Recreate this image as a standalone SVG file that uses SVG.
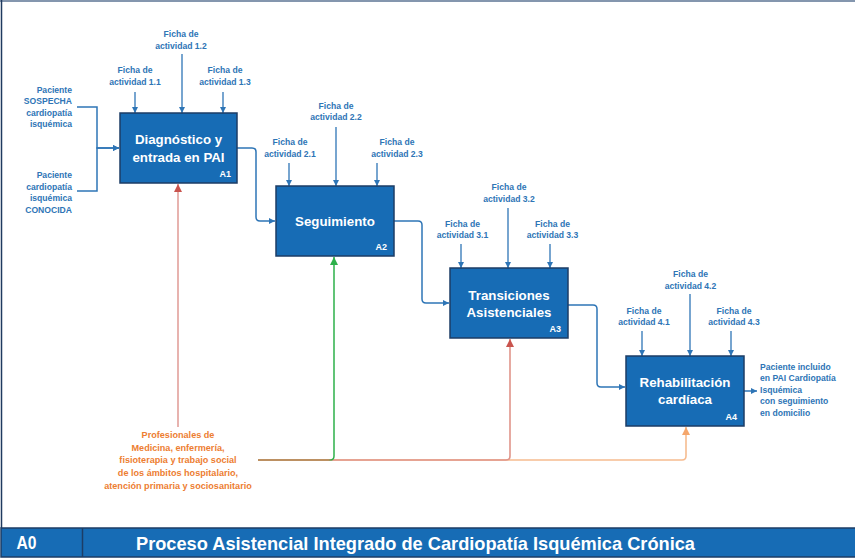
<svg xmlns="http://www.w3.org/2000/svg" width="855" height="559" viewBox="0 0 855 559">
  <style>
    .box { fill: #176CB5; stroke: #1C3D66; stroke-width: 1.5; }
    .bt { font-family: "Liberation Sans", Arial, sans-serif; font-weight: bold; font-size: 13.3px; fill: #FFFFFF; text-anchor: middle; }
    .bid { font-family: "Liberation Sans", Arial, sans-serif; font-weight: bold; font-size: 9px; fill: #FFFFFF; text-anchor: end; }
    .lbl { font-family: "Liberation Sans", Arial, sans-serif; font-weight: bold; font-size: 8.6px; fill: #2E75B6; }
    .mid { text-anchor: middle; }
    .end { text-anchor: end; }
    .mech { font-family: "Liberation Sans", Arial, sans-serif; font-weight: bold; font-size: 9.1px; fill: #ED7D31; text-anchor: middle; }
    .flow { fill: none; stroke: #2E75B6; stroke-width: 1.5; marker-end: url(#arB); }
    .ctl { fill: none; stroke: #2E75B6; stroke-width: 1.3; marker-end: url(#arB); }
    .foot { font-family: "Liberation Sans", Arial, sans-serif; font-weight: bold; font-size: 19px; fill: #FFFFFF; }
  </style>
  <defs>
    <marker id="arB" viewBox="0 0 10 10" refX="10" refY="5" markerWidth="6" markerHeight="6" markerUnits="userSpaceOnUse" orient="auto">
      <path d="M0,0 L10,5 L0,10 Z" fill="#2E75B6"/>
    </marker>
    <marker id="arR" viewBox="0 0 10 10" refX="10" refY="5" markerWidth="8" markerHeight="8" markerUnits="userSpaceOnUse" orient="auto">
      <path d="M0,0 L10,5 L0,10 Z" fill="#C9544E"/>
    </marker>
    <marker id="arG" viewBox="0 0 10 10" refX="10" refY="5" markerWidth="8" markerHeight="8" markerUnits="userSpaceOnUse" orient="auto">
      <path d="M0,0 L10,5 L0,10 Z" fill="#2DB04A"/>
    </marker>
    <marker id="arO" viewBox="0 0 10 10" refX="10" refY="5" markerWidth="8" markerHeight="8" markerUnits="userSpaceOnUse" orient="auto">
      <path d="M0,0 L10,5 L0,10 Z" fill="#F5A66B"/>
    </marker>
    <!-- shared trunk of the three mechanism lines reads brown; the riser to A2 is green -->
    <linearGradient id="gTrunk" gradientUnits="userSpaceOnUse" x1="258" y1="0" x2="346" y2="0">
      <stop offset="0" stop-color="#AE8A52"/>
      <stop offset="0.8" stop-color="#AE8A52"/>
      <stop offset="0.84" stop-color="#2DB04A"/>
      <stop offset="1" stop-color="#2DB04A"/>
    </linearGradient>
  </defs>

  <!-- frame -->
  <rect x="0" y="0" width="855" height="559" fill="#FFFFFF"/>
  <line x1="0" y1="1" x2="855" y2="1" stroke="#8496AE" stroke-width="2"/>
  <line x1="1.5" y1="0" x2="1.5" y2="528" stroke="#1F3A5F" stroke-width="1.5"/>

  <!-- connectors -->
  <g id="connectors">
    <!-- inputs -->
    <path class="flow" d="M77,107 H97 V148 H119"/>
    <path class="flow" d="M77,191 H97 V148 H119"/>
    <!-- outputs between activities -->
    <path class="flow" d="M237,148 H252 Q256,148 256,152 V217 Q256,221 260,221 H275"/>
    <path class="flow" d="M394,221 H418 Q422,221 422,225 V299 Q422,303 426,303 H449"/>
    <path class="flow" d="M568,305 H593 Q597,305 597,309 V383 Q597,387 601,387 H625"/>
    <path class="flow" d="M744,391 H757"/>
    <!-- controls A1 -->
    <path class="ctl" d="M135,92 V113"/>
    <path class="ctl" d="M182,54 V113"/>
    <path class="ctl" d="M223,92 V113"/>
    <!-- controls A2 -->
    <path class="ctl" d="M289,163 V186"/>
    <path class="ctl" d="M336,127 V186"/>
    <path class="ctl" d="M377,163 V186"/>
    <!-- controls A3 -->
    <path class="ctl" d="M461,244 V268"/>
    <path class="ctl" d="M508,208 V268"/>
    <path class="ctl" d="M550,244 V268"/>
    <!-- controls A4 -->
    <path class="ctl" d="M642,331 V356"/>
    <path class="ctl" d="M690,294 V356"/>
    <path class="ctl" d="M731,331 V356"/>
    <!-- mechanisms -->
    <path d="M178,427 V184" fill="none" stroke="#E2A09B" stroke-width="1.6" marker-end="url(#arR)"/>
    <path d="M258,460 H682 Q686,460 686,456 V427" fill="none" stroke="#F6BC90" stroke-width="1.6" marker-end="url(#arO)"/>
    <path d="M258,460 H506 Q510,460 510,456 V339" fill="none" stroke="#E0958A" stroke-width="1.6" marker-end="url(#arR)"/>
    <path d="M258,460 H330 Q334,460 334,456 V257" fill="none" stroke="url(#gTrunk)" stroke-width="1.5" marker-end="url(#arG)"/>
  </g>

  <!-- activity boxes -->
  <g id="A1">
    <rect class="box" x="120" y="113" width="117" height="70"/>
    <text class="bt" x="178.5" y="144">Diagnóstico y</text>
    <text class="bt" x="178.5" y="162">entrada en PAI</text>
    <text class="bid" x="231" y="177">A1</text>
  </g>
  <g id="A2">
    <rect class="box" x="276" y="186" width="118" height="70"/>
    <text class="bt" x="335" y="226">Seguimiento</text>
    <text class="bid" x="387" y="250">A2</text>
  </g>
  <g id="A3">
    <rect class="box" x="450" y="268" width="118" height="70"/>
    <text class="bt" x="509" y="300">Transiciones</text>
    <text class="bt" x="509" y="317">Asistenciales</text>
    <text class="bid" x="561" y="332">A3</text>
  </g>
  <g id="A4">
    <rect class="box" x="626" y="356" width="118" height="70"/>
    <text class="bt" x="685" y="387">Rehabilitación</text>
    <text class="bt" x="685" y="404">cardíaca</text>
    <text class="bid" x="737" y="420">A4</text>
  </g>

  <!-- inputs -->
  <g id="in-sospecha">
    <text class="lbl end" x="72" y="92.5">Paciente</text>
    <text class="lbl end" x="72" y="104">SOSPECHA</text>
    <text class="lbl end" x="72" y="115.5">cardiopatía</text>
    <text class="lbl end" x="72" y="127">isquémica</text>
  </g>
  <g id="in-conocida">
    <text class="lbl end" x="72" y="178">Paciente</text>
    <text class="lbl end" x="72" y="189.5">cardiopatía</text>
    <text class="lbl end" x="72" y="201">isquémica</text>
    <text class="lbl end" x="72" y="212.5">CONOCIDA</text>
  </g>

  <!-- controls -->
  <g id="ctl-1-1"><text class="lbl mid" x="135" y="73">Ficha de</text><text class="lbl mid" x="135" y="85">actividad 1.1</text></g>
  <g id="ctl-1-2"><text class="lbl mid" x="181" y="37">Ficha de</text><text class="lbl mid" x="181" y="48.5">actividad 1.2</text></g>
  <g id="ctl-1-3"><text class="lbl mid" x="225" y="73">Ficha de</text><text class="lbl mid" x="225" y="85">actividad 1.3</text></g>
  <g id="ctl-2-1"><text class="lbl mid" x="290" y="145">Ficha de</text><text class="lbl mid" x="290" y="156.5">actividad 2.1</text></g>
  <g id="ctl-2-2"><text class="lbl mid" x="336" y="109">Ficha de</text><text class="lbl mid" x="336" y="120">actividad 2.2</text></g>
  <g id="ctl-2-3"><text class="lbl mid" x="397" y="145">Ficha de</text><text class="lbl mid" x="397" y="156.5">actividad 2.3</text></g>
  <g id="ctl-3-1"><text class="lbl mid" x="462.5" y="227">Ficha de</text><text class="lbl mid" x="462.5" y="238">actividad 3.1</text></g>
  <g id="ctl-3-2"><text class="lbl mid" x="509" y="190">Ficha de</text><text class="lbl mid" x="509" y="201.5">actividad 3.2</text></g>
  <g id="ctl-3-3"><text class="lbl mid" x="552.5" y="227">Ficha de</text><text class="lbl mid" x="552.5" y="238">actividad 3.3</text></g>
  <g id="ctl-4-1"><text class="lbl mid" x="644" y="313.5">Ficha de</text><text class="lbl mid" x="644" y="324.5">actividad 4.1</text></g>
  <g id="ctl-4-2"><text class="lbl mid" x="690.5" y="277">Ficha de</text><text class="lbl mid" x="690.5" y="288.5">actividad 4.2</text></g>
  <g id="ctl-4-3"><text class="lbl mid" x="734" y="313.5">Ficha de</text><text class="lbl mid" x="734" y="324.5">actividad 4.3</text></g>

  <!-- output -->
  <g id="out">
    <text class="lbl" x="760" y="369.5">Paciente incluido</text>
    <text class="lbl" x="760" y="381">en PAI Cardiopatía</text>
    <text class="lbl" x="760" y="392.5">Isquémica</text>
    <text class="lbl" x="760" y="404">con seguimiento</text>
    <text class="lbl" x="760" y="415.5">en domicilio</text>
  </g>

  <!-- mechanism -->
  <g id="mech">
    <text class="mech" x="178" y="438">Profesionales de</text>
    <text class="mech" x="178" y="450.5">Medicina, enfermería,</text>
    <text class="mech" x="178" y="463">fisioterapia y trabajo social</text>
    <text class="mech" x="178" y="475.5">de los ámbitos hospitalario,</text>
    <text class="mech" x="178" y="488.5">atención primaria y sociosanitario</text>
  </g>

  <!-- footer band -->
  <g id="footer">
    <rect x="1" y="528" width="860" height="29" fill="#176CB5" stroke="#1C3D66" stroke-width="1.5"/>
    <line x1="82.5" y1="528" x2="82.5" y2="557" stroke="#1C3D66" stroke-width="1.5"/>
    <text class="foot" x="16.5" y="549" font-size="17" textLength="20" lengthAdjust="spacingAndGlyphs">A0</text>
    <text class="foot" x="136" y="550" textLength="559" lengthAdjust="spacingAndGlyphs">Proceso Asistencial Integrado de Cardiopatía Isquémica Crónica</text>
  </g>
</svg>
